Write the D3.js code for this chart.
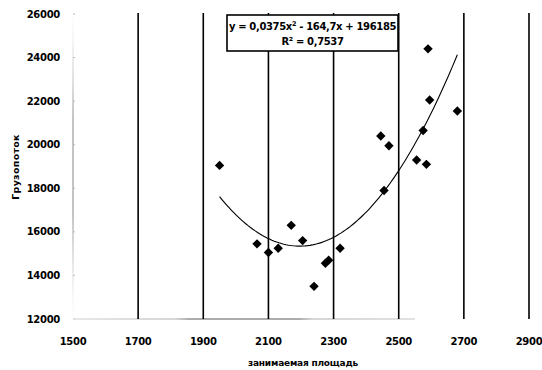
<!DOCTYPE html>
<html><head><meta charset="utf-8">
<script src="https://cdn.jsdelivr.net/npm/d3@7"></script>
<style>
html,body{margin:0;padding:0;background:#fff;}
svg{display:block;}
text{font-family:"DejaVu Sans",Verdana,sans-serif;font-weight:bold;fill:#000;}
</style></head>
<body>
<svg id="c" width="542" height="370"></svg>
<script>
const areaX = [1950, 2065, 2100, 2130, 2170, 2205, 2240, 2275, 2285, 2320, 2445, 2455, 2470, 2555, 2575, 2585, 2590, 2595, 2680];
const flowY = [19050, 15450, 15050, 15250, 16300, 15600, 13500, 14560, 14700, 15250, 20400, 17900, 19950, 19300, 20650, 19100, 24400, 22050, 21550];
const xTicks = [1500, 1700, 1900, 2100, 2300, 2500, 2700, 2900];
const yTicks = [12000, 14000, 16000, 18000, 20000, 22000, 24000, 26000];
const trendCoef = [0.0375, -164.7, 196185];
const eqLine1 = "y = 0,0375x";
const eqLine1b = " - 164,7x + 196185";
const eqLine2 = "R² = 0,7537";
const xTitle = "занимаемая площадь";
const yTitle = "Грузопоток";

const svg = d3.select("#c");
const x = d3.scaleLinear().domain([1500, 2900]).range([73, 529]);
const y = d3.scaleLinear().domain([12000, 26000]).range([319, 14]);

// gradients for faded axis lines
const defs = svg.append("defs");
const gy = defs.append("linearGradient").attr("id","gy").attr("gradientUnits","userSpaceOnUse")
  .attr("x1",0).attr("x2",0).attr("y1",y(26000)).attr("y2",y(12000));
[[0,"#fff"],[0.08,"#eee"],[0.2,"#c8c8c8"],[0.35,"#888"],[0.65,"#888"],[0.8,"#c8c8c8"],[0.92,"#eee"],[1,"#fff"]]
  .forEach(s=>gy.append("stop").attr("offset",s[0]).attr("stop-color",s[1]));
const gx = defs.append("linearGradient").attr("id","gx").attr("gradientUnits","userSpaceOnUse")
  .attr("x1",x(1500)).attr("x2",x(2550)).attr("y1",0).attr("y2",0);
[[0,"#e0e0e0"],[0.3,"#c8c8c8"],[0.34,"#909090"],[0.66,"#909090"],[0.7,"#c8c8c8"],[1,"#d8d8d8"]]
  .forEach(s=>gx.append("stop").attr("offset",s[0]).attr("stop-color",s[1]));

// y axis line and ticks
svg.append("line").attr("x1",x(1500)).attr("x2",x(1500)).attr("y1",y(26000)).attr("y2",y(12000))
  .attr("stroke","url(#gy)").attr("stroke-width",1);
svg.selectAll(".yt").data(yTicks).enter().append("line")
  .attr("x1",x(1500)).attr("x2",x(1500)+2).attr("y1",d=>y(d)).attr("y2",d=>y(d))
  .attr("stroke","#bbb").attr("stroke-width",1);

// x baseline
svg.append("line").attr("x1",x(1500)).attr("x2",x(2550)).attr("y1",y(12000)).attr("y2",y(12000))
  .attr("stroke","url(#gx)").attr("stroke-width",1.5);

// vertical black lines
svg.selectAll(".vl").data(xTicks.slice(1)).enter().append("line")
  .attr("x1",d=>x(d)).attr("x2",d=>x(d)).attr("y1",y(26000)-1).attr("y2",y(12000))
  .attr("stroke","#000").attr("stroke-width",1.6);

// tick labels
svg.selectAll(".yl").data(yTicks).enter().append("text")
  .attr("x",60).attr("y",d=>y(d)+3.5).attr("text-anchor","end")
  .attr("font-size",10).attr("letter-spacing",-0.3).text(d=>d);
svg.selectAll(".xl").data(xTicks).enter().append("text")
  .attr("x",d=>x(d)).attr("y",345).attr("text-anchor","middle")
  .attr("font-size",10).attr("letter-spacing",-0.3).text(d=>d);

// titles
svg.append("text").attr("x",303).attr("y",366).attr("text-anchor","middle")
  .attr("font-size",9).attr("letter-spacing",-0.2).text(xTitle);
svg.append("text").attr("transform","translate(19,167) rotate(-90)").attr("text-anchor","middle")
  .attr("font-size",9.5).attr("letter-spacing",0.3).text(yTitle);

// trendline
const f = v => trendCoef[0]*v*v + trendCoef[1]*v + trendCoef[2];
const xmin = d3.min(areaX), xmax = d3.max(areaX);
const tx = d3.range(0, 101).map(i => xmin + (xmax - xmin) * i / 100);
svg.append("path").datum(tx)
  .attr("d", d3.line().x(d=>x(d)).y(d=>y(f(d))))
  .attr("fill","none").attr("stroke","#000").attr("stroke-width",1.1);

// points
const sym = d3.symbol().type(d3.symbolSquare).size(44);
svg.selectAll(".pt").data(areaX).enter().append("path")
  .attr("d", sym)
  .attr("transform",(d,i)=>`translate(${x(d)},${y(flowY[i])}) rotate(45)`)
  .attr("fill","#000");

// equation box
const box = svg.append("g");
box.append("rect").attr("x",227).attr("y",15).attr("width",171).attr("height",36)
  .attr("fill","#fff").attr("stroke","#000").attr("stroke-width",1.6);
const t1 = box.append("text").attr("x",312.5).attr("y",30).attr("text-anchor","middle")
  .attr("font-size",10).attr("letter-spacing",-0.35);
t1.append("tspan").text(eqLine1);
t1.append("tspan").attr("font-size",6.5).attr("dy",-4).text("2");
t1.append("tspan").attr("dy",4).text(eqLine1b);
box.append("text").attr("x",312.5).attr("y",45).attr("text-anchor","middle")
  .attr("font-size",10).attr("letter-spacing",-0.35).text(eqLine2);
</script>
</body></html>
